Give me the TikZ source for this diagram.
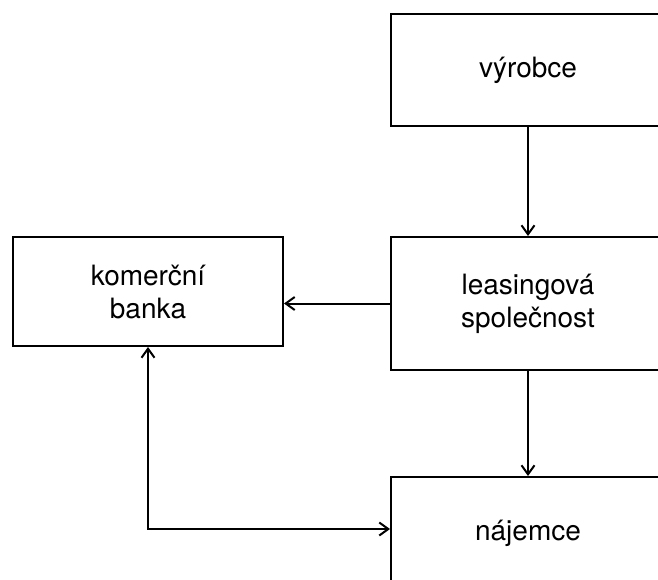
\documentclass[tikz,border=0pt]{standalone}
\usepackage{fontspec}
\setmainfont{TeX Gyre Heros}
\usetikzlibrary{arrows.meta}

\begin{document}
\begin{tikzpicture}[x=1pt,y=-1pt]
\tikzset{blok/.style={draw, line width=2pt, rectangle, inner sep=0pt, align=center, font=\fontsize{28}{33}\selectfont}}
\tikzset{sipka/.style={line width=2pt, -{Straight Barb[length=9pt,width=13pt]}}}
\tikzset{obesipky/.style={line width=2pt, {Straight Barb[length=9pt,width=13pt]}-{Straight Barb[length=9pt,width=13pt]}}}
\clip[use as bounding box] (0,0) rectangle (658,579);
% bloky
\node[blok, minimum width=274pt, minimum height=112pt] (vyrobce) at (528,70) {výrobce};
\node[blok, minimum width=274pt, minimum height=133pt] (leasing) at (528,303.5) {leasingová\\společnost};
\node[blok, minimum width=270pt, minimum height=109pt] (banka) at (148,291.5) {komerční\\banka};
\node[blok, minimum width=274pt, minimum height=112pt] (najemce) at (528,533) {nájemce};
% spojnice
\coordinate (vstup) at ([yshift=4pt]najemce.west);
\draw[sipka] (vyrobce) -- (leasing);
\draw[sipka] (leasing) -- (najemce);
\draw[sipka] (leasing.west) -- (leasing.west -| banka.east);
\draw[obesipky] (banka.south) |- (vstup);
\end{tikzpicture}
\end{document}
